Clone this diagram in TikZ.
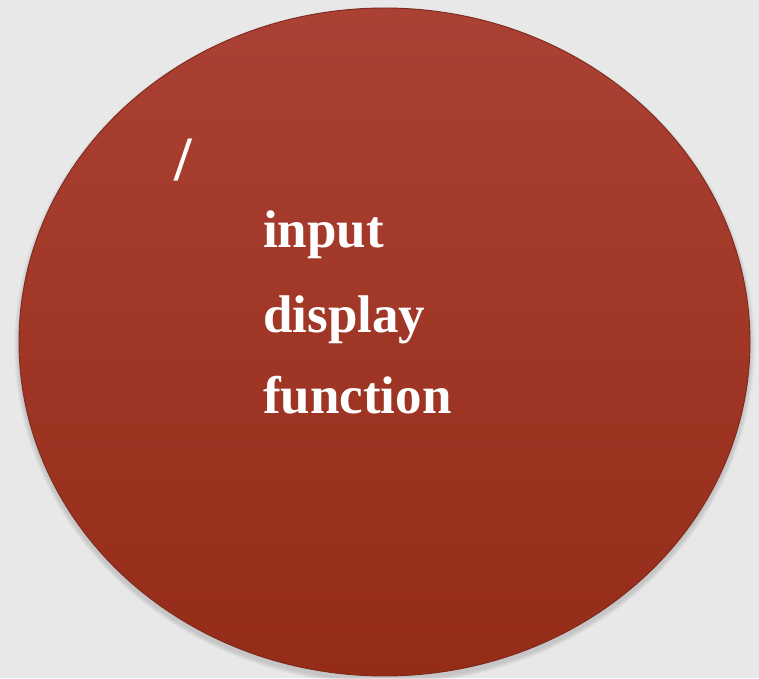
\documentclass[tikz,border=0pt]{standalone}
\usepackage{fontspec}
\setmainfont{Liberation Serif}
\usetikzlibrary{shadings,shapes.geometric}
\definecolor{bgcol}{RGB}{232,232,232}
\definecolor{topred}{RGB}{171,65,52}
\definecolor{botred}{RGB}{149,44,24}
\definecolor{edgered}{RGB}{125,42,30}
\tikzset{
  word/.style={text=white, font=\bfseries\fontsize{53}{60}\selectfont, inner sep=0pt, anchor=base west},
  slashmark/.style={text=white, font=\bfseries\fontsize{63}{70}\selectfont, inner sep=0pt, anchor=base west},
}
\begin{document}
\begin{tikzpicture}[x=1pt,y=1pt]
\fill[bgcol] (0,0) rectangle (759,678);
\useasboundingbox (0,0) rectangle (759,678);
% soft shadow
\foreach \i in {1,...,6}{
  \fill[black, opacity=0.025] (384.5,332) ellipse ({365.5+\i*0.8} and {334+\i*0.8});
}
\node[draw=edgered, line width=0.9pt, ellipse, minimum width=731pt, minimum height=668pt,
      top color=topred, bottom color=botred, inner sep=0pt] (disc) at (384.5,336) {};
\node[slashmark] (slash) at (174,497) {/};
\node[word] (input) at (263,430) {input};
\node[word] (display) at (263,346) {display};
\node[word] (function) at (263,265) {function};
\end{tikzpicture}
\end{document}
